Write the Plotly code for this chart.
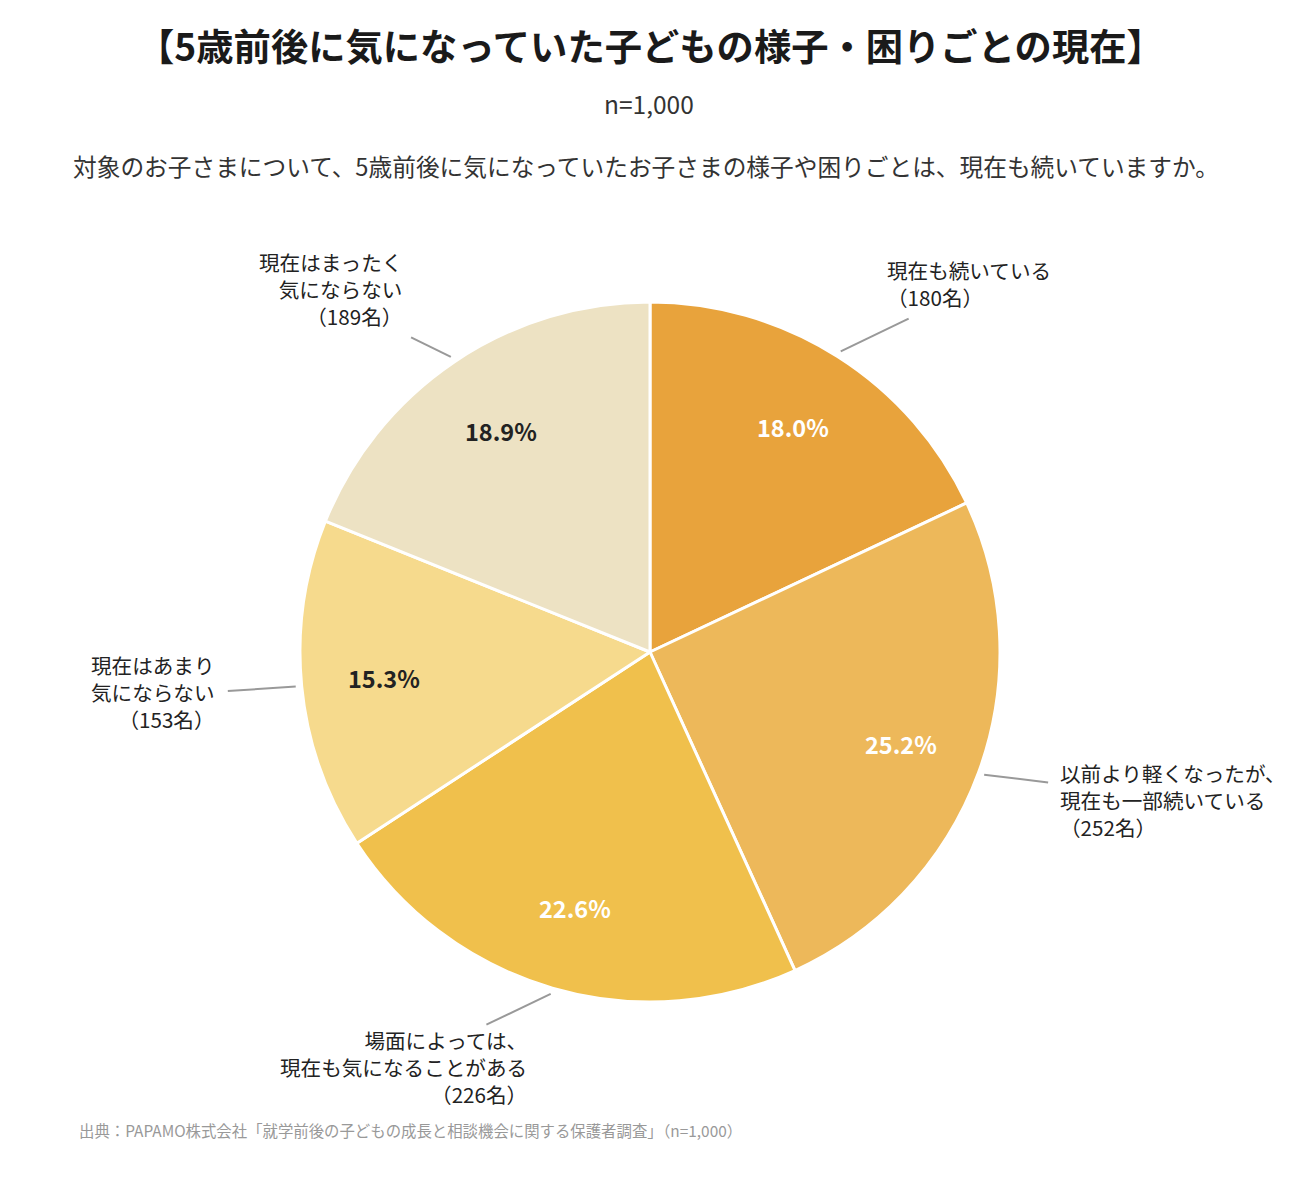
import math
import plotly.graph_objects as go

# Data
categories = ["現在も続いている", "以前より軽くなったが、<br>現在も一部続いている",
              "場面によっては、<br>現在も気になることがある", "現在はあまり<br>気にならない",
              "現在はまったく<br>気にならない"]
counts = [180, 252, 226, 153, 189]
percents = [18.0, 25.2, 22.6, 15.3, 18.9]
colors = ["#E8A33C", "#EDB85A", "#F0C04C", "#F6DA8D", "#EDE2C3"]
pct_colors = ["#FFFFFF", "#FFFFFF", "#FFFFFF", "#222222", "#222222"]

W, H = 1300, 1200
OFF = 8  # page body margin
CX, CY, R = 650, 652, 350
FONT = "Noto Sans CJK JP"

# label layout (style): leader length, angle tweak, text offset from line end, alignment
leader_end_r = [422, 419, 407, 424, 395]
leader_tweak = [5.4, -2.0, 7.5, 0.3, -3.2]
text_offset = [(-24, -35), (10, 17), (43, 42), (-11, 1), (-7, -48)]
text_side = ["left", "left", "right", "right", "right"]


def px(x, y):
    return (x - OFF) / W, 1 - (y - OFF) / H


def polar(r, deg):
    a = math.radians(deg)
    return CX + r * math.sin(a), CY - r * math.cos(a)


dx0, dy1 = px(CX - R, CY - R)
dx1, dy0 = px(CX + R, CY + R)

fig = go.Figure(go.Pie(
    values=counts,
    labels=[c.replace("<br>", "") for c in categories],
    sort=False,
    direction="clockwise",
    rotation=0,
    marker=dict(colors=colors, line=dict(color="white", width=3)),
    textinfo="none",
    hoverinfo="label+value",
    showlegend=False,
    domain=dict(x=[dx0, dx1], y=[dy0, dy1]),
))

total = sum(counts)
annotations = []
shapes = []
cum = 0
for i, v in enumerate(counts):
    mid = (cum + v / 2) / total * 360
    cum += v
    # percentage inside
    x, y = polar(0.763 * R, mid)
    xp, yp = px(x, y)
    annotations.append(dict(x=xp, y=yp, xref="paper", yref="paper", text=f"<b>{percents[i]:.1f}%</b>",
                            showarrow=False, xanchor="center", yanchor="middle",
                            font=dict(family=FONT, size=23.5, color=pct_colors[i])))
    # leader line
    x0, y0 = polar(1.017 * R, mid)
    x1, y1 = polar(leader_end_r[i], mid + leader_tweak[i])
    a0, b0 = px(x0, y0)
    a1, b1 = px(x1, y1)
    shapes.append(dict(type="line", xref="paper", yref="paper", x0=a0, y0=b0, x1=a1, y1=b1,
                       line=dict(color="#999999", width=2)))
    # outside label
    lx, ly = px(x1 + text_offset[i][0], y1 + text_offset[i][1])
    annotations.append(dict(x=lx, y=ly, xref="paper", yref="paper",
                            text=f"{categories[i]}<br>（{counts[i]}名）",
                            showarrow=False, xanchor=text_side[i], yanchor="middle", align=text_side[i],
                            font=dict(family=FONT, size=20.6, color="#222222")))

# titles and source
tx, ty = px(650, 45)
annotations.append(dict(x=tx, y=ty, xref="paper", yref="paper", showarrow=False,
                        xanchor="center", yanchor="middle",
                        text="<b>【5歳前後に気になっていた子どもの様子・困りごとの現在】</b>",
                        font=dict(family=FONT, size=37.3, color="#1a1a1a")))
tx, ty = px(649, 104)
annotations.append(dict(x=tx, y=ty, xref="paper", yref="paper", showarrow=False,
                        xanchor="center", yanchor="middle",
                        text="n=1,000", font=dict(family=FONT, size=24.5, color="#333333")))
tx, ty = px(646, 166)
annotations.append(dict(x=tx, y=ty, xref="paper", yref="paper", showarrow=False,
                        xanchor="center", yanchor="middle",
                        text="対象のお子さまについて、5歳前後に気になっていたお子さまの様子や困りごとは、現在も続いていますか。",
                        font=dict(family=FONT, size=23.7, color="#333333")))
tx, ty = px(77, 1130)
annotations.append(dict(x=tx, y=ty, xref="paper", yref="paper", showarrow=False, xanchor="left", yanchor="middle",
                        text="出典：PAPAMO株式会社「就学前後の子どもの成長と相談機会に関する保護者調査」（n=1,000）",
                        font=dict(family=FONT, size=15.4, color="#999999")))

fig.update_layout(
    width=W, height=H,
    margin=dict(l=0, r=0, t=0, b=0),
    paper_bgcolor="white",
    plot_bgcolor="white",
    annotations=annotations,
    shapes=shapes,
    font=dict(family=FONT),
)

fig.write_html("out.html")
